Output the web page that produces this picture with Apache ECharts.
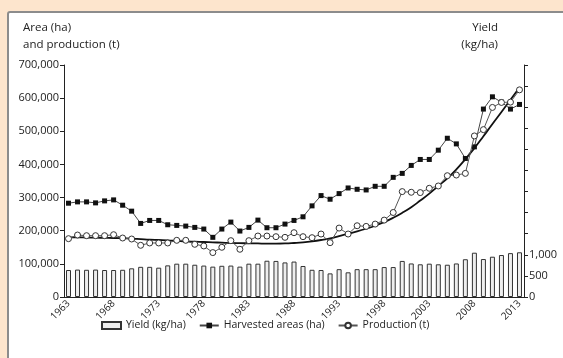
<!DOCTYPE html>
<html>
<head>
<meta charset="utf-8">
<script src="https://cdn.jsdelivr.net/npm/echarts@6/dist/echarts.min.js"></script>
<style>
  html, body { margin: 0; padding: 0; background: #fde5cd; }
  #panel {
    position: absolute; left: 7px; top: 11px; width: 600px; height: 400px;
    background: #ffffff; border: 2px solid #8c8c8c; border-radius: 3px;
  }
  #chart { position: absolute; left: 0; top: 0; width: 563px; height: 358px; }
</style>
</head>
<body>
<div id="panel"></div>
<div id="chart"></div>
<script>
// Years on the category axis
const years = [];
for (let y = 1963; y <= 2013; y++) years.push(String(y));

// Yield (kg/ha), right axis
const yieldKgHa = [640, 650, 645, 650, 640, 640, 645, 680, 715, 715,
                   695, 750, 790, 790, 765, 745, 720, 740, 745, 720,
                   790, 790, 860, 855, 820, 840, 735, 645, 640, 560,
                   660, 585, 660, 660, 660, 710, 710, 855, 795, 775,
                   790, 775, 765, 795, 895, 1050, 900, 955, 995, 1040,
                   1060];

// Harvested areas (ha), left axis
const harvestedHa = [283000, 287000, 287000, 284000, 290000, 293000, 277000, 259000, 222000, 231000,
                     231000, 218000, 216000, 214000, 210000, 205000, 180000, 205000, 226000, 199000,
                     210000, 232000, 209000, 209000, 220000, 231000, 242000, 275000, 306000, 295000,
                     312000, 329000, 325000, 323000, 334000, 334000, 361000, 373000, 397000, 415000,
                     415000, 443000, 479000, 462000, 418000, 453000, 567000, 604000, 588000, 567000,
                     581000];

// Production (t), left axis
const productionT = [176000, 187000, 185000, 185000, 185000, 188000, 178000, 175000, 156000, 163000,
                     163000, 163000, 171000, 171000, 159000, 154000, 134000, 150000, 170000, 144000,
                     170000, 184000, 184000, 182000, 180000, 194000, 182000, 179000, 190000, 164000,
                     208000, 190000, 215000, 213000, 220000, 232000, 255000, 318000, 316000, 315000,
                     328000, 335000, 366000, 368000, 373000, 486000, 505000, 572000, 587000, 588000,
                     625000];

// Production trend curve (t)
const productionTrend = [180000, 180000, 179500, 179000, 178500, 178000, 177000, 176000, 174500, 173000,
                         172000, 171000, 169500, 168000, 167000, 166000, 165000, 164000, 163000, 162500,
                         162000, 161500, 161000, 161000, 161500, 163000, 165000, 168000, 172000, 177000,
                         184000, 191000, 198000, 206000, 215000, 226000, 239000, 254000, 271000, 291000,
                         312000, 335000, 358000, 385000, 416000, 449000, 485000, 522000, 558000, 595000,
                         632000];

// Right-axis labels that are printed
const yieldTickLabels = [0, 500, 1000];

const FONT = "'Open Sans', 'Noto Sans', sans-serif";
const TXT = '#222';

const fmt = v => String(v).replace(/\B(?=(\d{3})+(?!\d))/g, ',');

const chart = echarts.init(document.getElementById('chart'), null, { renderer: 'canvas' });

chart.setOption({
  backgroundColor: 'transparent',
  animation: false,
  textStyle: { fontFamily: FONT, color: TXT },
  grid: { left: 64, right: 39, top: 65, bottom: 61, containLabel: false },
  graphic: [
    { type: 'text', x: 23, y: 19,
      style: { text: 'Area (ha)\nand production (t)', font: '11.5px ' + FONT, fill: TXT, lineHeight: 17 } },
    { type: 'text', x: 498, y: 19,
      style: { text: 'Yield\n(kg/ha)', font: '11.5px ' + FONT, fill: TXT, lineHeight: 17, align: 'right' } }
  ],
  legend: {
    top: 315,
    left: 96,
    itemGap: 13,
    itemWidth: 19,
    itemHeight: 7,
    textStyle: { fontFamily: FONT, fontSize: 10.5, color: TXT },
    data: [
      { name: 'Yield (kg/ha)', icon: 'rect' },
      { name: 'Harvested areas (ha)' },
      { name: 'Production (t)' }
    ]
  },
  xAxis: {
    type: 'category',
    data: years,
    boundaryGap: true,
    axisLine: { lineStyle: { color: '#222', width: 1 } },
    axisTick: { interval: 0, length: 3, lineStyle: { color: '#222' } },
    axisLabel: {
      show: true,
      interval: 4,
      rotate: 45,
      margin: 5,
      hideOverlap: false,
      fontFamily: FONT, fontSize: 10, color: TXT
    },
    splitLine: { show: false }
  },
  yAxis: [
    {
      type: 'value', min: 0, max: 700000, interval: 100000,
      axisLine: { show: true, lineStyle: { color: '#222', width: 1 } },
      axisTick: { show: true, length: 4, lineStyle: { color: '#222' } },
      axisLabel: { margin: 5, fontFamily: FONT, fontSize: 11, color: TXT, formatter: v => fmt(v) },
      splitLine: { show: false }
    },
    {
      type: 'value', min: 0, max: 5500, interval: 500, position: 'right',
      axisLine: { show: true, lineStyle: { color: '#222', width: 1 } },
      axisTick: { show: true, length: 4, lineStyle: { color: '#222' } },
      axisLabel: {
        margin: 5, fontFamily: FONT, fontSize: 11, color: TXT,
        formatter: v => yieldTickLabels.indexOf(v) >= 0 ? fmt(v) : ''
      },
      splitLine: { show: false }
    }
  ],
  series: [
    {
      name: 'Yield (kg/ha)',
      type: 'bar',
      yAxisIndex: 1,
      data: yieldKgHa,
      barWidth: 5,
      itemStyle: { color: '#eeeeee', borderColor: '#333', borderWidth: 1 },
      z: 1
    },
    {
      name: 'Production trend',
      type: 'line',
      yAxisIndex: 0,
      data: productionTrend,
      smooth: true,
      showSymbol: false,
      symbol: 'none',
      lineStyle: { color: '#111', width: 1.8 },
      z: 3
    },
    {
      name: 'Harvested areas (ha)',
      type: 'line',
      yAxisIndex: 0,
      data: harvestedHa,
      symbol: 'rect',
      symbolSize: 5,
      itemStyle: { color: '#111' },
      lineStyle: { color: '#444', width: 1 },
      z: 4
    },
    {
      name: 'Production (t)',
      type: 'line',
      yAxisIndex: 0,
      data: productionT,
      symbol: 'circle',
      symbolSize: 6,
      itemStyle: { color: '#fff', borderColor: '#333', borderWidth: 1 },
      lineStyle: { color: '#555', width: 1 },
      z: 5
    }
  ]
});
</script>
</body>
</html>
